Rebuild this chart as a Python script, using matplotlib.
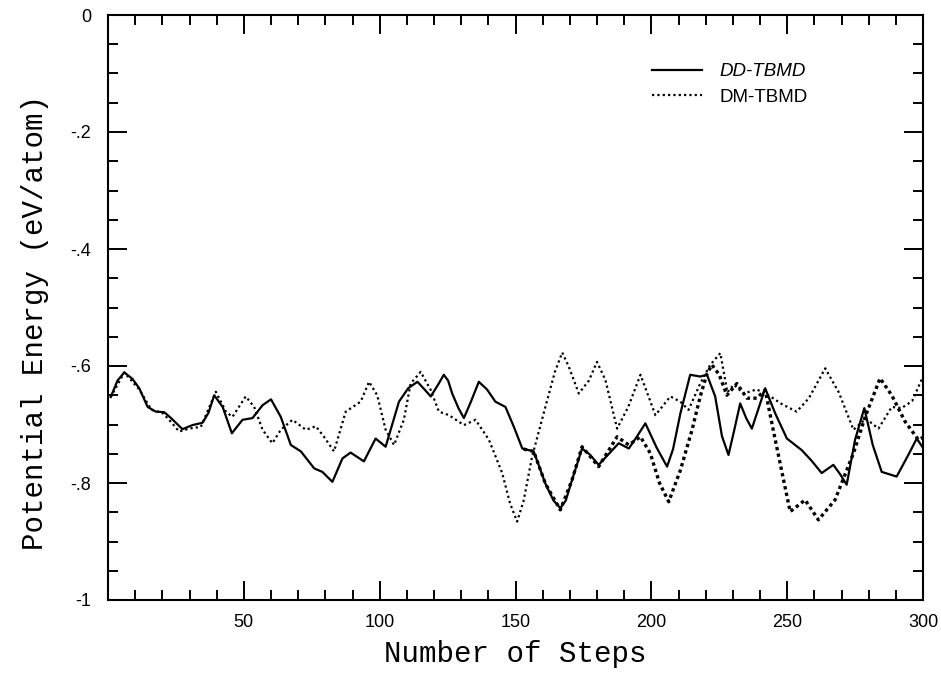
import numpy as np
import matplotlib
matplotlib.use("Agg")
import matplotlib.pyplot as plt
from matplotlib.ticker import MultipleLocator, FixedLocator, FixedFormatter

# DD-TBMD (solid line)
dd_steps = [1, 3.5, 6, 9, 11.5, 14.6, 17.6, 20.7, 23.2, 27.4, 31.1, 34.8, 37, 39.1,
            42.2, 45.6, 49.5, 53.2, 56.9, 60, 63.6, 67.3, 71, 75.9, 78.9, 82.6, 86.3,
            89.3, 94.2, 98.5, 102.2, 107.1, 110.5, 113.9, 116.5, 118.8, 121.5, 123.6,
            125.2, 126.7, 129, 131, 133.5, 136.5, 139.5, 142.6, 146.3, 149.4, 152.5,
            156.7, 161, 164, 166.5, 168.5, 170.8, 174.5, 177.5, 180.6, 184, 188,
            191.7, 194.5, 197.8, 202, 205.8, 208, 210.7, 214.3, 218, 220.5, 223.5,
            226, 228.4, 230.5, 232.7, 235, 237, 239.5, 241.9, 245.6, 249.9, 255.4,
            259, 262.7, 267, 269.5, 271.9, 275, 278.4, 281.5, 284.8, 290.3, 294.6,
            297.7, 300]
dd_energy = [-0.653, -0.625, -0.611, -0.622, -0.638, -0.670, -0.678, -0.679, -0.689,
             -0.708, -0.701, -0.697, -0.680, -0.650, -0.670, -0.715, -0.692, -0.689,
             -0.667, -0.657, -0.687, -0.735, -0.746, -0.775, -0.781, -0.798, -0.758,
             -0.748, -0.763, -0.724, -0.738, -0.661, -0.638, -0.627, -0.640, -0.652,
             -0.632, -0.615, -0.625, -0.647, -0.672, -0.689, -0.662, -0.627, -0.640,
             -0.661, -0.670, -0.704, -0.741, -0.746, -0.801, -0.830, -0.843, -0.830,
             -0.795, -0.741, -0.752, -0.769, -0.752, -0.732, -0.741, -0.722, -0.698,
             -0.740, -0.772, -0.742, -0.681, -0.615, -0.618, -0.615, -0.652, -0.720,
             -0.752, -0.710, -0.664, -0.690, -0.707, -0.672, -0.638, -0.681, -0.724,
             -0.744, -0.762, -0.783, -0.769, -0.785, -0.803, -0.726, -0.672, -0.735,
             -0.781, -0.789, -0.752, -0.724, -0.740]

# DM-TBMD (dotted line)
dm_steps = [1, 6, 11.5, 16, 20, 22.5, 26.2, 29.9, 34.2, 39.7, 43.4, 45.8, 50.7, 53.8,
            56.9, 60.5, 63.6, 67.9, 72.8, 76.5, 79.5, 83.2, 87.5, 93, 96.1, 99.1,
            102.2, 105.3, 108.9, 111.4, 115.1, 118.8, 121.8, 125.5, 131, 135.3, 140.2,
            145.1, 148, 150.6, 153, 156.1, 161, 164.5, 167.2, 169.6, 173.3, 177, 180,
            183.1, 187.4, 191.5, 196, 201.5, 207, 210.7, 213.7, 218, 221.7, 225.4, 228,
            230.3, 234, 238.8, 243.8, 248, 253.5, 258, 264, 269, 274.4, 279, 283.6,
            288.5, 292.1, 296, 300]
dm_energy = [-0.653, -0.611, -0.640, -0.675, -0.680, -0.692, -0.712, -0.707, -0.704,
             -0.644, -0.678, -0.687, -0.652, -0.670, -0.709, -0.732, -0.709, -0.692,
             -0.709, -0.703, -0.721, -0.746, -0.678, -0.661, -0.627, -0.650, -0.709,
             -0.735, -0.692, -0.630, -0.610, -0.641, -0.678, -0.684, -0.701, -0.692,
             -0.726, -0.783, -0.835, -0.866, -0.830, -0.755, -0.670, -0.610, -0.577,
             -0.601, -0.647, -0.625, -0.593, -0.624, -0.707, -0.670, -0.615, -0.684,
             -0.652, -0.661, -0.675, -0.630, -0.598, -0.578, -0.645, -0.632, -0.647,
             -0.640, -0.652, -0.665, -0.678, -0.655, -0.604, -0.645, -0.709, -0.690,
             -0.707, -0.670, -0.672, -0.660, -0.618]

# second dotted run (no legend entry)
dm2_steps = [153, 156.7, 161, 166.5, 170.8, 174.5, 180.6, 187.4, 191.7, 196, 199.6,
             203, 206.4, 210.7, 215, 218, 220.5, 222.3, 225, 227.8, 231.5, 235.2,
             238.8, 241.9, 245.6, 251.1, 256.6, 261.5, 267.6, 274.4, 278.7, 284.2,
             288.5, 293.4, 298.3, 300]
dm2_energy = [-0.742, -0.746, -0.801, -0.846, -0.795, -0.738, -0.772, -0.721, -0.735,
              -0.721, -0.749, -0.800, -0.832, -0.778, -0.709, -0.652, -0.613, -0.598,
              -0.615, -0.650, -0.630, -0.655, -0.655, -0.641, -0.726, -0.849, -0.829,
              -0.863, -0.829, -0.749, -0.687, -0.621, -0.650, -0.695, -0.726, -0.722]

y_ticks = [-1, -0.8, -0.6, -0.4, -0.2, 0]
y_labels = ['-1', '-.8', '-.6', '-.4', '-.2', '0']
x_ticks = [50, 100, 150, 200, 250, 300]

fig = plt.figure(figsize=(9.41, 6.73), dpi=100)
ax = fig.add_axes([108 / 941, 73 / 673, 815 / 941, 585 / 673])

ax.plot(dd_steps, dd_energy, color='black', lw=1.6, label='DD-TBMD')
ax.plot(dm_steps, dm_energy, color='black', lw=1.6, linestyle=(0, (1, 1.4)),
        label='DM-TBMD')
ax.plot(dm2_steps, dm2_energy, color='black', lw=2.4, linestyle=(0, (1, 1.0)))

ax.set_xlim(0, 300)
ax.set_ylim(-1, 0)

ax.xaxis.set_major_locator(FixedLocator(x_ticks))
ax.xaxis.set_minor_locator(MultipleLocator(10))
ax.yaxis.set_major_locator(FixedLocator(y_ticks))
ax.yaxis.set_major_formatter(FixedFormatter(y_labels))
ax.yaxis.set_minor_locator(MultipleLocator(0.05))

tick_font = 'Liberation Sans'
ax.tick_params(which='both', direction='in', top=True, right=True, width=1.4,
               color='black')
ax.tick_params(which='major', length=14)
ax.tick_params(which='minor', length=7)
ax.tick_params(axis='x', which='major', pad=10, labelsize=13)
ax.tick_params(axis='y', which='major', pad=12, labelsize=13)
for lbl in ax.get_xticklabels() + ax.get_yticklabels():
    lbl.set_fontfamily(tick_font)

for sp in ax.spines.values():
    sp.set_linewidth(1.5)

label_font = dict(family='Liberation Mono', size=21)
ax.set_xlabel('Number of Steps', fontdict=label_font)
ax.set_ylabel('Potential Energy (eV/atom)', fontdict=label_font)
ax.xaxis.set_label_coords(0.5, -0.068)
ax.yaxis.set_label_coords(-0.073, 0.475)

leg = ax.legend(loc='upper left', bbox_to_anchor=(0.667, 0.918), frameon=False,
                borderpad=0, borderaxespad=0, handlelength=2.7,
                handletextpad=0.9, labelspacing=0.45,
                prop={'family': 'Liberation Sans', 'size': 13.5})
leg.get_texts()[0].set_fontstyle('italic')

fig.savefig('out.png', dpi=100)
